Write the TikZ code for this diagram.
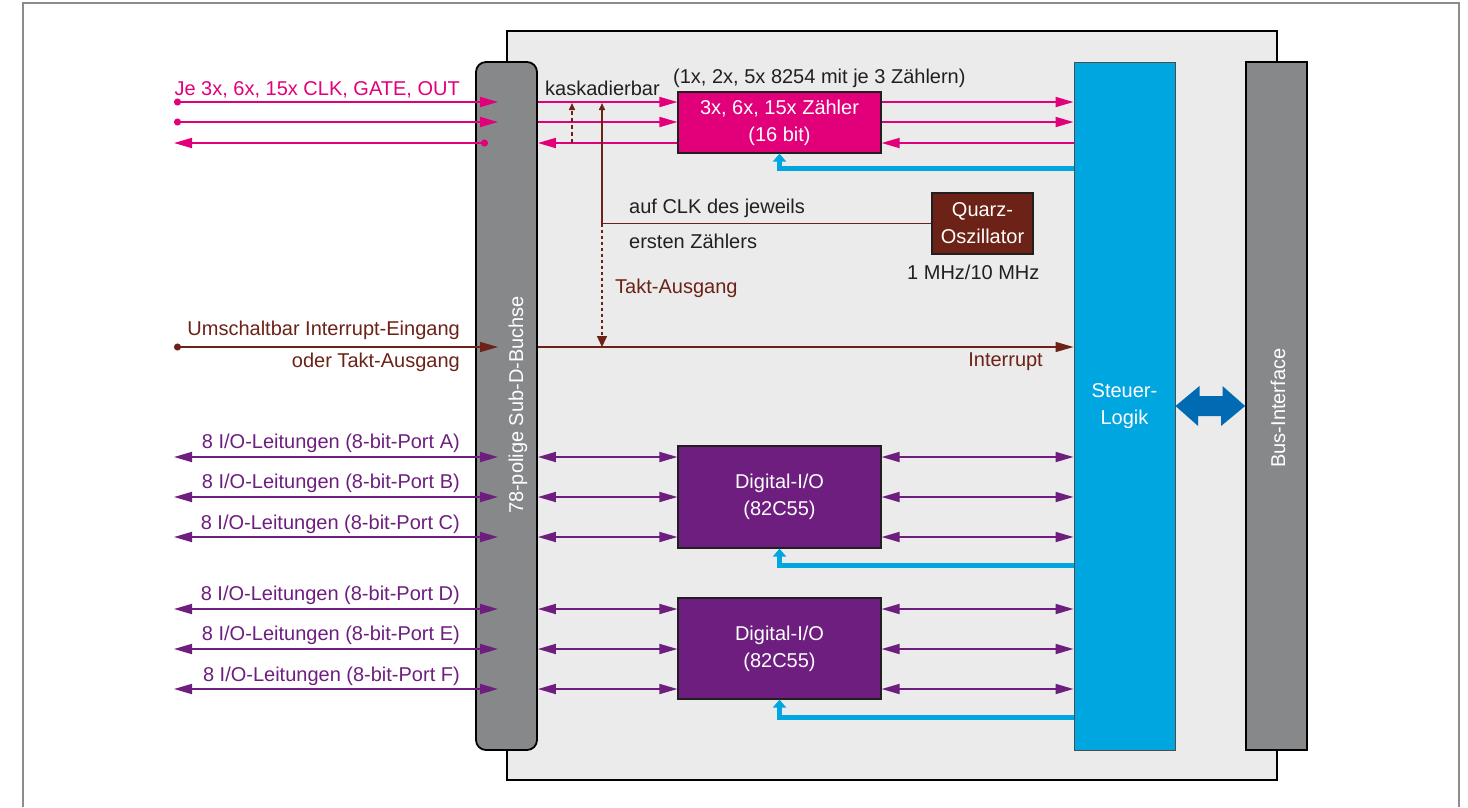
\documentclass[tikz,border=0pt]{standalone}
\usepackage{fontspec}
\setmainfont{Liberation Sans}
\usepackage{xcolor}
\usetikzlibrary{arrows.meta}

\definecolor{clkpink}{RGB}{226,0,122}
\definecolor{iopurple}{RGB}{109,30,126}
\definecolor{taktbrown}{RGB}{108,34,22}
\definecolor{logikblue}{RGB}{0,166,224}
\definecolor{busblue}{RGB}{0,106,179}
\definecolor{pluggray}{RGB}{135,136,138}
\definecolor{boardgray}{RGB}{235,235,235}
\definecolor{framegray}{RGB}{140,140,140}
\definecolor{textdark}{RGB}{35,31,32}

\tikzset{
  bigtri/.tip={Triangle[length=18pt, width=10pt]},
  smalltri/.tip={Triangle[length=7pt, width=6pt]},
  midtri/.tip={Triangle[length=11pt, width=10pt]},
  ctrltri/.tip={Triangle[length=8pt, width=13pt]},
  enddot/.tip={Circle[length=7pt]}
}

\begin{document}
\begin{tikzpicture}[x=1pt, y=-1pt,
  every node/.style={font=\fontsize{20}{27}\selectfont},
  lbl/.style={inner sep=0pt},
  block/.style={draw=textdark, line width=1.2pt, text=white, align=center, inner sep=0pt},
  clk/.style={draw=clkpink, line width=1.8pt},
  io/.style={draw=iopurple, line width=1.8pt},
  takt/.style={draw=taktbrown, line width=1.5pt},
  ctrl/.style={draw=logikblue, line width=5pt}]
  \useasboundingbox (0,0) rectangle (1468,807);

  % Frame and board
  \draw[framegray, line width=1.5pt] (23,807) -- (23,3) -- (1459,3) -- (1459,807);
  \draw[black, line width=1.8pt, fill=boardgray] (507,31) rectangle (1277,780);

  % Blocks
  \node[block, rounded corners=10pt, draw=black, line width=1.8pt, fill=pluggray,
        minimum width=61pt, minimum height=688pt] (subd) at (506.5,406) {};
  \node[block, draw=black!70, line width=1pt, fill=logikblue,
        minimum width=101pt, minimum height=688pt] (logik) at (1124.5,406) {Steuer-\\Logik};
  \node[block, draw=black, line width=1.8pt, fill=pluggray,
        minimum width=61pt, minimum height=688pt] (bus) at (1276.5,406) {};
  \node[block, fill=clkpink, minimum width=203pt, minimum height=61pt]
     (zaehler) at (779.5,122.5) {3x, 6x, 15x Zähler\\(16 bit)};
  \node[block, fill=taktbrown, minimum width=101pt, minimum height=61pt]
     (quarz) at (982.5,223.5) {Quarz-\\Oszillator};
  \node[block, fill=iopurple, minimum width=203pt, minimum height=102pt]
     (dio1) at (779.5,497) {Digital-I/O\\(82C55)};
  \node[block, fill=iopurple, minimum width=203pt, minimum height=101pt]
     (dio2) at (779.5,648.5) {Digital-I/O\\(82C55)};

  % Rotated block labels
  \node[lbl, rotate=90, anchor=base, text=white] (subdlbl) at (523,405) {78-polige Sub-D-Buchse};
  \node[lbl, rotate=90, anchor=base, text=white] (buslbl) at (1285,408) {Bus-Interface};

  % Pin ends
  \coordinate (ext) at (174,0);
  \coordinate (pin) at (498,0);
  \coordinate (pinout) at (488,0);
  \coordinate (kask) at (602,103);

  % CLK, GATE, OUT
  \draw[clk, enddot-bigtri] (ext |- 0,102) -- (pin |- 0,102);
  \draw[clk, enddot-bigtri] (ext |- 0,122) -- (pin |- 0,122);
  \draw[clk, bigtri-enddot] (ext |- 0,143) -- (pinout |- 0,143);
  \draw[clk, -bigtri] (subd.east |- 0,102) -- (zaehler.west |- 0,102);
  \draw[clk, -bigtri] (subd.east |- 0,122) -- (zaehler.west |- 0,122);
  \draw[clk, bigtri-] (subd.east |- 0,143) -- (zaehler.west |- 0,143);
  \draw[clk, -bigtri] (zaehler.east |- 0,102) -- (logik.west |- 0,102);
  \draw[clk, -bigtri] (zaehler.east |- 0,122) -- (logik.west |- 0,122);
  \draw[clk, bigtri-] (zaehler.east |- 0,143) -- (logik.west |- 0,143);

  % Cascading and clock
  \draw[takt, dash pattern=on 4pt off 3pt, -smalltri] (572,143) -- (572,103);
  \draw[takt, -smalltri] (quarz.west) -| (kask);
  \draw[takt, dash pattern=on 3pt off 3pt, -midtri] (kask |- quarz.west) -- (kask |- 0,347);

  % Interrupt
  \draw[takt, enddot-bigtri] (ext |- 0,347) -- (pin |- 0,347);
  \draw[takt, -bigtri] (subd.east |- 0,347) -- (logik.west |- 0,347);

  % Port A-C
  \draw[io, bigtri-bigtri] (ext |- 0,457) -- (pin |- 0,457);
  \draw[io, bigtri-bigtri] (ext |- 0,497) -- (pin |- 0,497);
  \draw[io, bigtri-bigtri] (ext |- 0,537) -- (pin |- 0,537);
  \draw[io, bigtri-bigtri] (subd.east |- 0,457) -- (dio1.west |- 0,457);
  \draw[io, bigtri-bigtri] (subd.east |- 0,497) -- (dio1.west |- 0,497);
  \draw[io, bigtri-bigtri] (subd.east |- 0,537) -- (dio1.west |- 0,537);
  \draw[io, bigtri-bigtri] (dio1.east |- 0,457) -- (logik.west |- 0,457);
  \draw[io, bigtri-bigtri] (dio1.east |- 0,497) -- (logik.west |- 0,497);
  \draw[io, bigtri-bigtri] (dio1.east |- 0,537) -- (logik.west |- 0,537);
  % Port D-F
  \draw[io, bigtri-bigtri] (ext |- 0,609) -- (pin |- 0,609);
  \draw[io, bigtri-bigtri] (ext |- 0,649) -- (pin |- 0,649);
  \draw[io, bigtri-bigtri] (ext |- 0,689) -- (pin |- 0,689);
  \draw[io, bigtri-bigtri] (subd.east |- 0,609) -- (dio2.west |- 0,609);
  \draw[io, bigtri-bigtri] (subd.east |- 0,649) -- (dio2.west |- 0,649);
  \draw[io, bigtri-bigtri] (subd.east |- 0,689) -- (dio2.west |- 0,689);
  \draw[io, bigtri-bigtri] (dio2.east |- 0,609) -- (logik.west |- 0,609);
  \draw[io, bigtri-bigtri] (dio2.east |- 0,649) -- (logik.west |- 0,649);
  \draw[io, bigtri-bigtri] (dio2.east |- 0,689) -- (logik.west |- 0,689);

  % Control lines
  \draw[ctrl, -ctrltri] (logik.west |- 0,168) -| (zaehler.south);
  \draw[ctrl, -ctrltri] (logik.west |- 0,565) -| (dio1.south);
  \draw[ctrl, -ctrltri] (logik.west |- 0,717) -| (dio2.south);

  % Bus arrow
  \fill[busblue] (logik.east) -- ++(24,-20) -- ++(0,10) -- ++(23,0) -- ++(0,-10)
     -- (bus.west) -- ++(-24,20) -- ++(0,-10) -- ++(-23,0) -- ++(0,10) -- cycle;

  % Labels
  \node[lbl, text=clkpink, anchor=base east] (clklbl) at (460,95) {Je 3x, 6x, 15x CLK, GATE, OUT};
  \node[lbl, text=textdark, anchor=base west] (kasklbl) at (545,95) {kaskadierbar};
  \node[lbl, text=textdark, anchor=base west] (chiplbl) at (673,83) {(1x, 2x, 5x 8254 mit je 3 Zählern)};
  \node[lbl, text=textdark, anchor=base west] (auflbl) at (629,213) {auf CLK des jeweils};
  \node[lbl, text=textdark, anchor=base west] (erstlbl) at (629,248) {ersten Zählers};
  \node[lbl, text=textdark, anchor=base west] (freqlbl) at (907,279) {1 MHz/10 MHz};
  \node[lbl, text=taktbrown, anchor=base west] (taktlbl) at (615,293) {Takt-Ausgang};
  \node[lbl, text=taktbrown, anchor=base east] (umlbl) at (460,335) {Umschaltbar Interrupt-Eingang};
  \node[lbl, text=taktbrown, anchor=base east] (oderlbl) at (460,367) {oder Takt-Ausgang};
  \node[lbl, text=taktbrown, anchor=base east] (intlbl) at (1043,366) {Interrupt};
  \node[lbl, text=iopurple, anchor=base east] (portA) at (460,448) {8 I/O-Leitungen (8-bit-Port A)};
  \node[lbl, text=iopurple, anchor=base east] (portB) at (460,488) {8 I/O-Leitungen (8-bit-Port B)};
  \node[lbl, text=iopurple, anchor=base east] (portC) at (460,529) {8 I/O-Leitungen (8-bit-Port C)};
  \node[lbl, text=iopurple, anchor=base east] (portD) at (460,600) {8 I/O-Leitungen (8-bit-Port D)};
  \node[lbl, text=iopurple, anchor=base east] (portE) at (460,640) {8 I/O-Leitungen (8-bit-Port E)};
  \node[lbl, text=iopurple, anchor=base east] (portF) at (460,681) {8 I/O-Leitungen (8-bit-Port F)};
\end{tikzpicture}
\end{document}
